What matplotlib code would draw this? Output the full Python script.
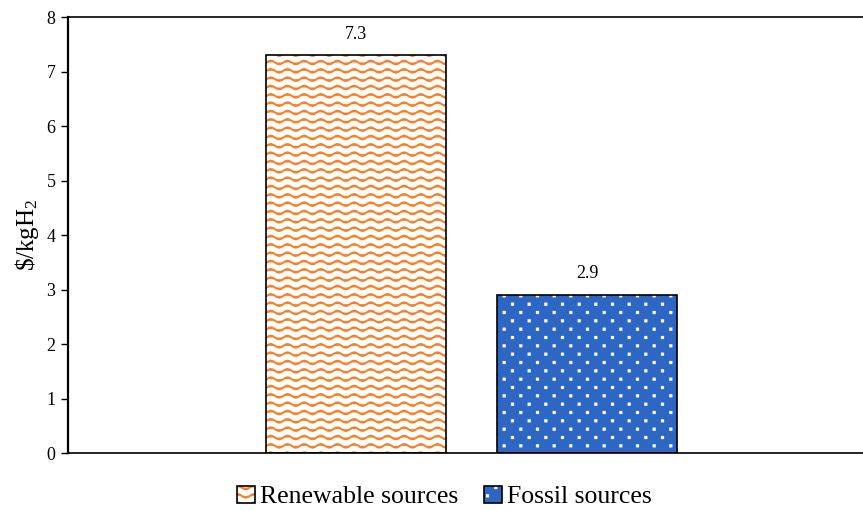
"""Hydrogen production cost by source, bar chart with patterned fills."""

import warnings

import matplotlib
matplotlib.use("Agg")
import matplotlib.hatch as mhatch
import matplotlib.pyplot as plt
import numpy as np
from matplotlib.legend_handler import HandlerTuple
from matplotlib.patches import Patch
from matplotlib.path import Path

warnings.filterwarnings("ignore")

SOURCES = ["Renewable sources", "Fossil sources"]
COST = [7.3, 2.9]
Y_TICKS = [0, 1, 2, 3, 4, 5, 6, 7, 8]

ORANGE = "#F5822A"
BLUE = "#2D66C3"


class WaveHatch(mhatch.HatchPatternBase):
    """Wavy rows, roughly like the Excel 'wave' pattern ('~')."""

    def __init__(self, hatch, density):
        self.num_rows = int(hatch.count("~") * density * 2)
        self.periods = 6
        self.pts = 8 * self.periods + 1
        self.num_vertices = self.num_rows * self.pts if self.num_rows else 0

    def set_vertices_and_codes(self, vertices, codes):
        n = self.pts
        xs = np.linspace(0, 1, n)
        amp = 0.22 / self.num_rows
        wave = amp * np.sin(2 * np.pi * self.periods * xs)
        for r in range(self.num_rows):
            y = (r + 0.5) / self.num_rows
            sl = slice(r * n, (r + 1) * n)
            vertices[sl, 0] = xs
            vertices[sl, 1] = y + wave
            codes[sl] = Path.LINETO
            codes[r * n] = Path.MOVETO


class DotHatch(mhatch.HatchPatternBase):
    """Tiny square dots, staggered rows (':')."""

    def __init__(self, hatch, density):
        n = hatch.count(":")
        self.cols = int(n * density)
        self.rows = int(n * density * 2)
        self.size = 0.006
        self.num_vertices = self.rows * self.cols * 5 if n else 0

    def set_vertices_and_codes(self, vertices, codes):
        s = self.size
        sq = np.array([[-s, -s], [s, -s], [s, s], [-s, s], [-s, -s]])
        sq_codes = [Path.MOVETO, Path.LINETO, Path.LINETO, Path.LINETO, Path.CLOSEPOLY]
        k = 0
        for r in range(self.rows):
            shift = 0.5 / self.cols if r % 2 else 0.0
            y = (r + 0.5) / self.rows
            for c in range(self.cols):
                cx = (c + 0.25) / self.cols + shift
                vertices[k:k + 5] = sq + [cx, y]
                codes[k:k + 5] = sq_codes
                k += 5


mhatch._hatch_types.extend([WaveHatch, DotHatch])

plt.rcParams["font.family"] = ["Liberation Serif", "DejaVu Serif"]
plt.rcParams["mathtext.fontset"] = "custom"
plt.rcParams["mathtext.rm"] = "Liberation Serif"
plt.rcParams["mathtext.it"] = "Liberation Serif"
plt.rcParams["hatch.linewidth"] = 1.45

fig = plt.figure(figsize=(8.63, 5.11), dpi=100)
ax = fig.add_axes([68 / 863, 58 / 511, 1.02 - 68 / 863, 436 / 511])

x = np.arange(len(SOURCES))
width = 0.78
hatches = ["~", ":"]
fills = ["white", BLUE]
hcolors = [ORANGE, "white"]

handles = []
for i, (name, val) in enumerate(zip(SOURCES, COST)):
    # pattern layer (hatch colour comes from edgecolor), then a black outline
    ax.bar(x[i], val, width, color=fills[i], edgecolor=hcolors[i], hatch=hatches[i],
           linewidth=0, zorder=2)
    ax.bar(x[i], val, width, fill=False, edgecolor="black", linewidth=1.2, zorder=3)
    ax.annotate(f"{val:.1f}", (x[i], val), xytext=(0, 9), textcoords="offset points",
                ha="center", va="bottom", fontsize=13)
    hp = Patch(facecolor=fills[i], edgecolor=hcolors[i], hatch=hatches[i], linewidth=0)
    he = Patch(fill=False, edgecolor="black", linewidth=1.2)
    handles.append((hp, he))

ax.set_xlim(-1.249, 2.27)
ax.set_ylim(0, 8)
ax.set_yticks(Y_TICKS)
ax.tick_params(axis="y", labelsize=13, length=5, width=1, direction="out", pad=4)
ax.set_xticks([])
ax.set_ylabel(r"\$/kgH$_2$", fontsize=18, labelpad=4)
for side in ["left", "bottom", "top", "right"]:
    ax.spines[side].set_color("black")
ax.spines["left"].set_linewidth(1.6)
ax.spines["bottom"].set_linewidth(1.2)
ax.spines["top"].set_linewidth(1.2)

fig.legend(handles, SOURCES, handler_map={tuple: HandlerTuple(ndivide=1)},
           loc="center", bbox_to_anchor=(444 / 863, 1 - 497 / 511), ncol=2, frameon=False,
           fontsize=18.5, handlelength=0.7, handleheight=0.7, handletextpad=0.2,
           columnspacing=1.0)

fig.savefig("out.png", dpi=100)
